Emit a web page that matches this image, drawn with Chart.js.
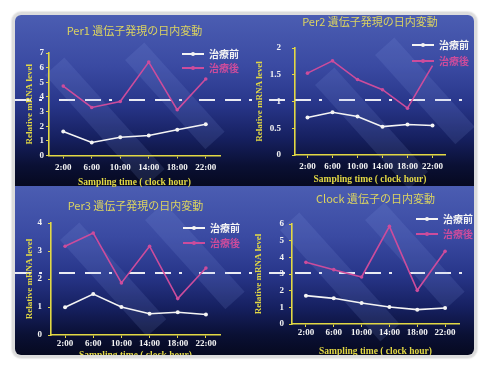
<!DOCTYPE html>
<html>
<head>
<meta charset="utf-8">
<script src="https://cdn.jsdelivr.net/npm/chart.js@4.4.1/dist/chart.umd.min.js"></script>
<style>
  html, body { margin: 0; padding: 0; background: #ffffff; }
  #frame {
    position: absolute; left: 12px; top: 12px;
    width: 459px; height: 340px;
    border: 3px solid #dcdcdc; border-radius: 9px;
    overflow: hidden; box-shadow: 0 0 2px #b8b8b8;
  }
  .band { position: absolute; left: 0; width: 459px;
    background: linear-gradient(to bottom, #4b5db2 0%, #3a4aa2 30%, #28368a 52%, #162060 72%, #0a1034 88%, #060920 100%); }
  .dash { position: absolute; left: 0; width: 459px; height: 2px; opacity: 0.9;
    background: repeating-linear-gradient(90deg, #fff 0 16px, transparent 16px 24px, #fff 24px 27px, transparent 27px 44px, #fff 44px 60px, transparent 60px 70px); }
  .stripe { position: absolute; width: 26px; background: rgba(150, 170, 240, 0.13); transform: rotate(-42deg); transform-origin: top left; }
  canvas { position: absolute; left: -15px; top: -15px; }
</style>
</head>
<body>
<div id="frame">
  <div class="band" style="top:0;height:171px"></div>
  <div class="band" style="top:171px;height:169px"></div>
  <div class="dash" style="top:84px"></div>
  <div class="dash" style="top:257px"></div>
  <div class="stripe" style="left:30px;top:60px;height:150px"></div>
  <div class="stripe" style="left:110px;top:45px;height:120px"></div>
  <div class="stripe" style="left:300px;top:70px;height:140px"></div>
  <div class="stripe" style="left:360px;top:40px;height:120px"></div>
  <div class="stripe" style="left:45px;top:225px;height:130px"></div>
  <div class="stripe" style="left:130px;top:205px;height:120px"></div>
  <div class="stripe" style="left:265px;top:215px;height:150px"></div>
  <div class="stripe" style="left:350px;top:205px;height:120px"></div>
  <canvas id="c1" width="488" height="371"></canvas>
  <canvas id="c2" width="488" height="371"></canvas>
  <canvas id="c3" width="488" height="371"></canvas>
  <canvas id="c4" width="488" height="371"></canvas>
</div>
<script>
const hours = ['2:00', '6:00', '10:00', '14:00', '18:00', '22:00'];
const seriesNames = ['治療前', '治療後'];

const per1Before = [1.64, 0.89, 1.25, 1.37, 1.76, 2.14];
const per1After = [4.74, 3.28, 3.69, 6.38, 3.12, 5.22];
const per2Before = [0.70, 0.80, 0.72, 0.53, 0.57, 0.55];
const per2After = [1.53, 1.76, 1.41, 1.22, 0.875, 1.67];
const per3Before = [0.99, 1.46, 1.00, 0.76, 0.81, 0.73];
const per3After = [3.17, 3.64, 1.86, 3.17, 1.30, 2.39];
const clockBefore = [1.70, 1.54, 1.26, 1.02, 0.86, 0.96];
const clockAfter = [3.70, 3.26, 2.82, 5.86, 2.02, 4.36];

const titles = ['Per1 遺伝子発現の日内変動', 'Per2 遺伝子発現の日内変動', 'Per3 遺伝子発現の日内変動', 'Clock 遺伝子の日内変動'];
const yMax = [7, 2, 4, 6];
const yStep = [1, 0.5, 1, 1];

const YELLOW = '#e2d844';
const WHITE = '#f4f4f4';
const PINK = '#cc4c9c';
const W = 488, H = 371;

// draws the little legend in the top right of each panel
const cornerLegend = {
    id: 'cornerLegend',
    afterDraw(chart, args, opts) {
        const ctx = chart.ctx;
        chart.data.datasets.forEach((ds, i) => {
            const y = opts.y + i * opts.gap;
            ctx.save();
            ctx.strokeStyle = ds.borderColor;
            ctx.lineWidth = 2;
            ctx.beginPath();
            ctx.moveTo(opts.x, y);
            ctx.lineTo(opts.x + 22, y);
            ctx.stroke();
            ctx.fillStyle = ds.borderColor;
            ctx.beginPath();
            ctx.arc(opts.x + 11, y, 2, 0, Math.PI * 2);
            ctx.fill();
            ctx.font = 'bold 10px "Noto Sans CJK JP"';
            ctx.textBaseline = 'middle';
            ctx.fillText(ds.label, opts.x + 27, y);
            ctx.restore();
        });
    }
};

function makePanel(id, idx, before, after, box) {
    const titleLH = 13.2, yTitleLH = 10.8, xTitleLH = 11.4;
    const padTop = box.titleY - titleLH / 2;
    const padLeft = box.yTitleX - yTitleLH / 2;
    const xScaleBottom = box.xTitleY + xTitleLH / 2;
    const ctx = document.getElementById(id).getContext('2d');
    new Chart(ctx, {
        type: 'line',
        data: {
            labels: hours,
            datasets: [{
                label: seriesNames[0],
                data: before,
                borderColor: WHITE,
                backgroundColor: WHITE,
                borderWidth: 1.6,
                pointRadius: 2,
                pointBorderWidth: 0,
                tension: 0
            }, {
                label: seriesNames[1],
                data: after,
                borderColor: PINK,
                backgroundColor: PINK,
                borderWidth: 1.6,
                pointRadius: idx === 1 ? [1.8, 1.8, 1.8, 1.8, 1.8, 0] : 1.8,
                pointBorderWidth: 0,
                tension: 0
            }]
        },
        options: {
            responsive: false,
            animation: false,
            devicePixelRatio: 1,
            layout: {
                autoPadding: false,
                padding: { left: padLeft, top: padTop, right: W - box.right, bottom: H - xScaleBottom }
            },
            plugins: {
                legend: { display: false },
                tooltip: { enabled: false },
                title: {
                    display: true,
                    text: titles[idx],
                    color: '#dcd460',
                    fullSize: false,
                    font: { family: '"Noto Sans CJK JP"', size: 11, weight: 'normal', lineHeight: 1.2 },
                    padding: { top: 0, bottom: box.top - padTop - titleLH }
                },
                cornerLegend: box.legend
            },
            scales: {
                x: {
                    offset: true,
                    grid: { display: true, drawOnChartArea: false, offset: false, color: YELLOW, tickLength: 3 },
                    border: { display: true, color: YELLOW, width: 1.6 },
                    ticks: {
                        color: WHITE, padding: box.xPad, autoSkip: false, maxRotation: 0, minRotation: 0,
                        font: { family: '"Liberation Serif"', size: 9, weight: 'bold' }
                    },
                    title: {
                        display: true, text: 'Sampling time ( clock hour)', color: YELLOW, padding: 0,
                        font: { family: '"Liberation Serif"', size: 9.5, weight: 'bold', lineHeight: 1.2 }
                    },
                    afterFit: s => { s.height = xScaleBottom - box.bottom; }
                },
                y: {
                    min: 0,
                    max: yMax[idx],
                    grid: { display: true, drawOnChartArea: false, color: YELLOW, tickLength: 3 },
                    border: { display: true, color: YELLOW, width: 1.6 },
                    ticks: {
                        stepSize: yStep[idx], color: WHITE, padding: box.yPad,
                        callback: v => String(+v.toFixed(2)),
                        font: { family: '"Liberation Serif"', size: 9, weight: 'bold' }
                    },
                    title: {
                        display: true, text: 'Relative mRNA level', color: YELLOW, padding: 0,
                        font: { family: '"Liberation Serif"', size: 9, weight: 'bold', lineHeight: 1.2 }
                    },
                    afterFit: s => { s.width = box.left - padLeft; }
                }
            }
        },
        plugins: [cornerLegend]
    });
}

makePanel('c1', 0, per1Before, per1After, {
    left: 49, right: 220, top: 53, bottom: 155.5, titleY: 31, yTitleX: 30, xTitleY: 183, xPad: 4, yPad: 2,
    legend: { x: 182, y: 54, gap: 14 }
});
makePanel('c2', 1, per2Before, per2After, {
    left: 295, right: 445, top: 48, bottom: 155, titleY: 22, yTitleX: 260, xTitleY: 180, xPad: 3, yPad: 11,
    legend: { x: 412, y: 45, gap: 16 }
});
makePanel('c3', 2, per3Before, per3After, {
    left: 51, right: 220, top: 223, bottom: 335, titleY: 206, yTitleX: 30, xTitleY: 356, xPad: 0, yPad: 6,
    legend: { x: 183, y: 228, gap: 15 }
});
makePanel('c4', 3, clockBefore, clockAfter, {
    left: 292, right: 459, top: 224, bottom: 324, titleY: 199, yTitleX: 259, xTitleY: 352, xPad: 0, yPad: 5,
    legend: { x: 416, y: 219, gap: 15 }
});
</script>
</body>
</html>
